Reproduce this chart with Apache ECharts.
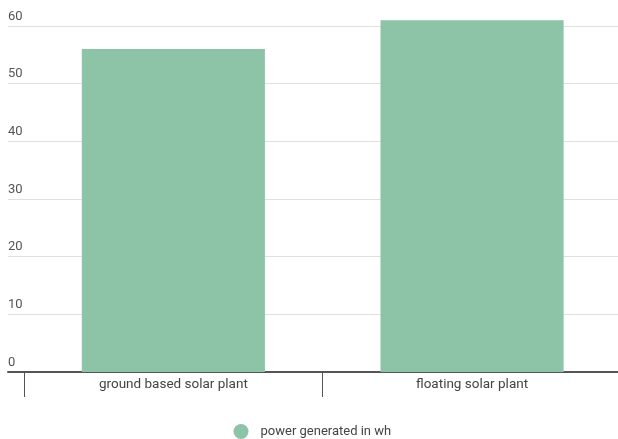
<!DOCTYPE html>
<html>
<head>
<meta charset="utf-8">
<script src="https://cdn.jsdelivr.net/npm/echarts@6/dist/echarts.min.js"></script>
<style>
  html, body { margin: 0; padding: 0; background: #fff; }
  #chart { width: 618px; height: 439px; }
</style>
</head>
<body>
<div id="chart"></div>
<script>
// Power output comparison between two solar plant types
const categories = ['ground based solar plant', 'floating solar plant'];
const powerValues = [56, 61];
const seriesName = 'power generated in wh';
const yMin = 0;
const yMax = 60;
const yStep = 10;

const FONT = 'Roboto, "Noto Sans", sans-serif';
const BAR_COLOR = '#8dc3a7';

const chart = echarts.init(document.getElementById('chart'), null, { renderer: 'canvas' });

const plotTop = 26;
const plotBottom = 67;

chart.setOption({
  animation: false,
  backgroundColor: '#ffffff',
  textStyle: { fontFamily: FONT },
  grid: [
    // full-width grid: gridlines, value labels and baseline
    { left: 8, right: 0, top: plotTop, bottom: plotBottom, containLabel: false, outerBoundsMode: 'none' },
    // category grid holding the bars (runs slightly past the right edge)
    { left: 24, width: 597.4, top: plotTop, bottom: plotBottom, containLabel: false, outerBoundsMode: 'none' }
  ],
  xAxis: [
    {
      gridIndex: 0,
      type: 'category',
      data: categories,
      axisLine: { show: true, lineStyle: { color: '#555555', width: 2 } },
      axisTick: { show: false },
      axisLabel: { show: false },
      splitLine: { show: false }
    },
    {
      gridIndex: 1,
      type: 'category',
      data: categories,
      axisLine: { show: false },
      axisTick: { show: true, length: 25, lineStyle: { color: '#555555', width: 1 } },
      axisLabel: { color: '#444444', fontSize: 13.5, fontFamily: FONT, margin: 6 },
      splitLine: { show: false }
    }
  ],
  yAxis: [
    {
      gridIndex: 0,
      type: 'value',
      min: yMin,
      max: yMax,
      interval: yStep,
      axisLine: { show: false },
      axisTick: { show: false },
      splitLine: { show: true, lineStyle: { color: '#e0e0e0', width: 1 } },
      axisLabel: {
        inside: true,
        margin: 0,
        align: 'left',
        verticalAlign: 'bottom',
        padding: [0, 0, 3, 0],
        color: '#555555',
        fontSize: 13,
        fontFamily: FONT
      }
    },
    {
      gridIndex: 1,
      type: 'value',
      min: yMin,
      max: yMax,
      interval: yStep,
      show: false,
      splitLine: { show: false }
    }
  ],
  legend: {
    data: [seriesName],
    left: 228.5,
    top: 419,
    icon: 'circle',
    itemWidth: 15,
    itemHeight: 15,
    itemGap: 8,
    textStyle: { color: '#444444', fontSize: 13, fontFamily: FONT, padding: [0, 0, 0, 7] }
  },
  series: [
    {
      name: seriesName,
      type: 'bar',
      xAxisIndex: 1,
      yAxisIndex: 1,
      data: powerValues,
      clip: false,
      barCategoryGap: '38.7%',
      itemStyle: { color: BAR_COLOR },
      emphasis: { disabled: true }
    }
  ]
});
</script>
</body>
</html>
